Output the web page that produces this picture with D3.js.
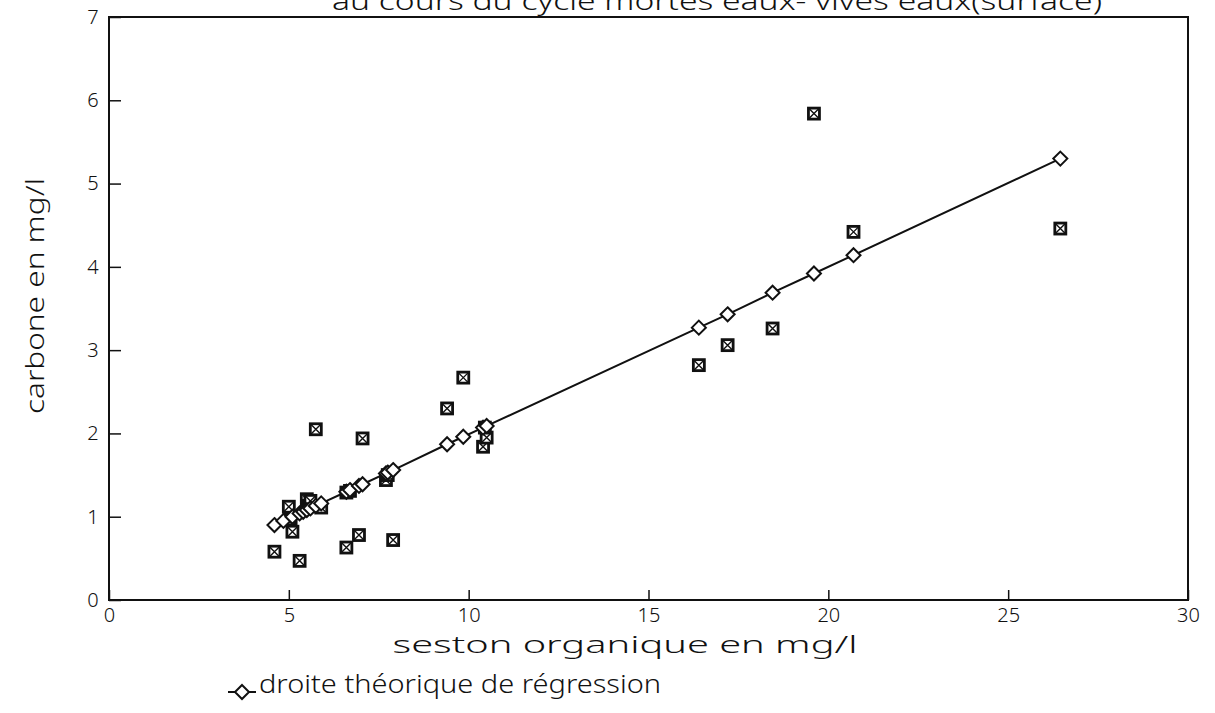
<!DOCTYPE html>
<html>
<head>
<meta charset="utf-8">
<script src="https://cdn.jsdelivr.net/npm/d3@7"></script>
<style>
  html, body { margin: 0; padding: 0; background: #fff; }
  svg { display: block; }
  text { font-family: "Noto Sans", "DejaVu Sans", sans-serif; fill: #111; }
</style>
</head>
<body>
<svg id="chart" width="1215" height="713"></svg>
<script>
// Measured values: organic seston (mg/l) vs carbon (mg/l)
const sestonMeasured = [4.6, 5.0, 5.05, 5.1, 5.3, 5.5, 5.55, 5.6, 5.75, 5.9,
  6.6, 6.6, 6.7, 6.95, 7.05, 7.7, 7.75, 7.9, 9.4, 9.85, 10.4, 10.5, 10.45,
  16.4, 17.2, 18.45, 19.6, 20.7, 26.45];
const carbonMeasured = [0.58, 1.12, 0.97, 0.82, 0.47, 1.21, 1.13, 1.19, 2.05, 1.11,
  0.63, 1.29, 1.31, 0.78, 1.94, 1.44, 1.50, 0.72, 2.30, 2.67, 1.84, 1.95, 2.07,
  2.82, 3.06, 3.26, 5.84, 4.42, 4.46];

// Theoretical regression line, one point per measured abscissa
const sestonFit = [4.6, 4.85, 5.1, 5.3, 5.4, 5.5, 5.6, 5.75, 5.9, 6.6, 6.7, 6.95,
  7.05, 7.7, 7.75, 7.9, 9.4, 9.85, 10.4, 10.5, 16.4, 17.2, 18.45, 19.6, 20.7, 26.45];
const carbonFit = [0.90, 0.95, 1.00, 1.04, 1.06, 1.08, 1.10, 1.13, 1.16, 1.30, 1.32, 1.37,
  1.39, 1.52, 1.53, 1.56, 1.87, 1.96, 2.07, 2.09, 3.27, 3.43, 3.69, 3.92, 4.14, 5.30];

const xTicks = [0, 5, 10, 15, 20, 25, 30];
const yTicks = [0, 1, 2, 3, 4, 5, 6, 7];

const titleText = "au cours du cycle mortes eaux- vives eaux(surface)";
const xTitle = "seston organique en mg/l";
const yTitle = "carbone en mg/l";
const legendText = "droite théorique de régression";

const svg = d3.select("#chart");
const ink = "#111";

const x = d3.scaleLinear().domain([0, 30]).range([109, 1188]);
const y = d3.scaleLinear().domain([0, 7]).range([600, 17]);

// Title (partly running off the top edge)
svg.append("text")
  .attr("x", 332).attr("y", 10)
  .attr("font-size", 25).attr("font-weight", 300)
  .attr("textLength", 770).attr("lengthAdjust", "spacingAndGlyphs")
  .text(titleText);

// Frame
svg.append("rect")
  .attr("x", x(0)).attr("y", y(7))
  .attr("width", x(30) - x(0)).attr("height", y(0) - y(7))
  .attr("fill", "none").attr("stroke", ink).attr("stroke-width", 2);

// Axes with inward ticks
const xAxis = d3.axisBottom(x).tickValues(xTicks).tickFormat(d3.format("d"))
  .tickSizeInner(-10).tickSizeOuter(0).tickPadding(8);
const gx = svg.append("g").attr("transform", `translate(0,${y(0)})`).call(xAxis);
gx.select(".domain").remove();
gx.selectAll(".tick line").attr("stroke", ink).attr("stroke-width", 1.5);
gx.selectAll(".tick text").attr("font-size", 20).attr("font-family", "Noto Sans, sans-serif")
  .attr("fill", ink).attr("font-weight", 300);

const yAxis = d3.axisLeft(y).tickValues(yTicks).tickFormat(d3.format("d"))
  .tickSizeInner(-12).tickSizeOuter(0).tickPadding(12);
const gy = svg.append("g").attr("transform", `translate(${x(0)},0)`).call(yAxis);
gy.select(".domain").remove();
gy.selectAll(".tick line").attr("stroke", ink).attr("stroke-width", 1.5);
gy.selectAll(".tick text").attr("font-size", 20).attr("font-family", "Noto Sans, sans-serif")
  .attr("fill", ink).attr("font-weight", 300)
  .attr("text-anchor", "middle").attr("x", -16);

// Axis titles
svg.append("text")
  .attr("x", 625).attr("y", 653).attr("text-anchor", "middle")
  .attr("font-size", 24).attr("font-weight", 300)
  .attr("textLength", 465).attr("lengthAdjust", "spacingAndGlyphs")
  .text(xTitle);

svg.append("text")
  .attr("transform", `translate(44,296) rotate(-90)`)
  .attr("text-anchor", "middle")
  .attr("font-size", 26).attr("font-weight", 300)
  .attr("textLength", 236).attr("lengthAdjust", "spacingAndGlyphs")
  .text(yTitle);

// Marker helpers
function crossedSquare(g, cx, cy) {
  const h = 5.5;
  g.append("rect").attr("x", cx - h).attr("y", cy - h)
    .attr("width", 2 * h).attr("height", 2 * h)
    .attr("fill", "#fff").attr("stroke", ink).attr("stroke-width", 2.8);
  g.append("path")
    .attr("d", `M${cx - h},${cy - h}L${cx + h},${cy + h}M${cx + h},${cy - h}L${cx - h},${cy + h}`)
    .attr("stroke", ink).attr("stroke-width", 1.4);
}
function diamond(g, cx, cy) {
  const r = 7;
  g.append("path")
    .attr("d", `M${cx},${cy - r}L${cx + r},${cy}L${cx},${cy + r}L${cx - r},${cy}Z`)
    .attr("fill", "#fff").attr("stroke", ink).attr("stroke-width", 2);
}

// Measured points
const gPts = svg.append("g");
sestonMeasured.forEach((sx, i) => crossedSquare(gPts, x(sx), y(carbonMeasured[i])));

// Regression line and its points
const fit = sestonFit.map((sx, i) => [sx, carbonFit[i]]);
svg.append("path")
  .datum(fit)
  .attr("d", d3.line().x(d => x(d[0])).y(d => y(d[1])))
  .attr("fill", "none").attr("stroke", ink).attr("stroke-width", 2);
const gFit = svg.append("g");
fit.forEach(d => diamond(gFit, x(d[0]), y(d[1])));

// Legend
const lg = svg.append("g");
lg.append("line").attr("x1", 228).attr("x2", 256).attr("y1", 692).attr("y2", 692)
  .attr("stroke", ink).attr("stroke-width", 2);
diamond(lg, 242, 692);
lg.append("text").attr("x", 259).attr("y", 693)
  .attr("font-size", 26).attr("font-weight", 300)
  .attr("textLength", 402).attr("lengthAdjust", "spacingAndGlyphs")
  .text(legendText);
</script>
</body>
</html>
